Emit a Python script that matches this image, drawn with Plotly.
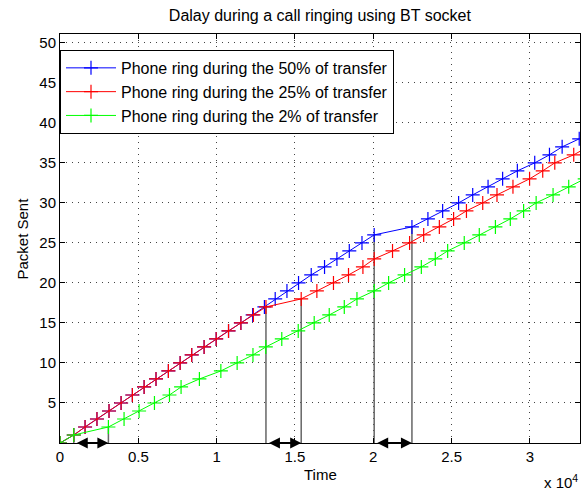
import plotly.graph_objects as go

# ---- data ----
blue_x = [0, 880, 1600, 2360, 3130, 3900, 4620, 5370, 6130, 6920, 7670, 8410, 9200, 9970,
          10760, 11550, 12300, 13050, 13740, 14490, 15230, 16040, 16890, 17680, 18470, 19280,
          20060, 22470, 23490, 24430, 25450, 26350, 27330, 28260, 29200, 30310, 31250, 32060, 33150]
blue_y = list(range(0, 27)) + list(range(27, 39))

red_x = [0, 880, 1600, 2360, 3130, 3900, 4620, 5370, 6130, 6920, 7670, 8410, 9200, 9970,
         10760, 11550, 12350, 13150, 15400, 16400, 17460, 18420, 19340, 20060, 21230, 22320,
         23220, 24220, 25130, 25950, 26990, 27900, 28920, 29980, 30820, 31590, 32800, 33700]
red_y = list(range(0, 38))

green_x = [0, 880, 3090, 4090, 5050, 6030, 6990, 7730, 8900, 10270, 11310, 12320, 13140, 14160,
           15210, 16230, 17190, 18150, 18960, 20060, 20980, 22000, 23070, 23960, 24750, 25810,
           26770, 27800, 28750, 29600, 30400, 31480, 32480, 33500]
green_y = list(range(0, 34))

series_names = ["Phone ring during the 50% of transfer",
                "Phone ring during the 25% of transfer",
                "Phone ring during the 2% of transfer"]

# ring markers: vertical guide lines (x, height) and double arrows (start, end)
guide_x = [880, 3090, 13150, 15400, 20060, 22470]
guide_top = [1, 2, 17, 18, 26, 27]
arrow_pairs = [(880, 3090), (13150, 15400), (20060, 22470)]

x_tickvals = [0, 5000, 10000, 15000, 20000, 25000, 30000]
x_ticktext = ["0", "0.5", "1", "1.5", "2", "2.5", "3"]
y_tickvals = [5, 10, 15, 20, 25, 30, 35, 40, 45, 50]

title_text = "Dalay during a call ringing using BT socket"
x_label = "Time"
y_label = "Packet Sent"

FONT = "Liberation Sans, Arial, Helvetica, sans-serif"

fig = go.Figure()

# guide lines
for gx, gt in zip(guide_x, guide_top):
    fig.add_trace(go.Scatter(x=[gx, gx], y=[0, gt], mode="lines",
                             line=dict(color="#666666", width=1.5),
                             showlegend=False, hoverinfo="skip"))

for xs, ys, col, name in [(blue_x, blue_y, "#0000ff", series_names[0]),
                          (red_x, red_y, "#ff0000", series_names[1]),
                          (green_x, green_y, "#00ff00", series_names[2])]:
    fig.add_trace(go.Scatter(x=xs, y=ys, mode="lines+markers", name=name,
                             line=dict(color=col, width=1),
                             marker=dict(symbol="cross-thin", size=10,
                                         line=dict(color=col, width=1.2), color=col)))

for a, b in arrow_pairs:
    fig.add_annotation(x=b, y=0, ax=a, ay=0, xref="x", yref="y", axref="x", ayref="y",
                       showarrow=True, arrowside="end+start", arrowhead=2, startarrowhead=2,
                       arrowsize=1.1, startarrowsize=1.1, arrowwidth=2, arrowcolor="black",
                       standoff=0, startstandoff=0, text=" ")

axis_common = dict(showline=True, linecolor="black", linewidth=1, mirror="ticks",
                   ticks="inside", ticklen=5, tickcolor="black", showgrid=True,
                   gridcolor="#444444", gridwidth=1, griddash="1px,5px", zeroline=False,
                   automargin=False,
                   tickfont=dict(family=FONT, size=15, color="black"))

fig.update_xaxes(range=[0, 33200], tickvals=x_tickvals, ticktext=x_ticktext, **axis_common)
fig.update_yaxes(range=[0, 51.1], tickvals=y_tickvals, **axis_common)

fig.add_annotation(text=x_label, x=0.5, y=-0.076, xref="paper", yref="paper",
                   showarrow=False, font=dict(family=FONT, size=15, color="black"),
                   xanchor="center", yanchor="middle")
fig.add_annotation(text=y_label, x=-0.073, y=0.5, xref="paper", yref="paper", textangle=-90,
                   showarrow=False, font=dict(family=FONT, size=15, color="black"),
                   xanchor="center", yanchor="middle")
fig.add_annotation(text="x 10<sup>4</sup>", x=1.0, y=-0.095, xref="paper", yref="paper",
                   showarrow=False, font=dict(family=FONT, size=15, color="black"),
                   xanchor="right", yanchor="middle")

fig.update_layout(
    width=587, height=491,
    margin=dict(l=60, r=7, t=34, b=48, autoexpand=False),
    paper_bgcolor="white", plot_bgcolor="white",
    title=dict(text=title_text, x=0.545, xanchor="center", y=0.969, yanchor="middle",
               font=dict(family=FONT, size=16, color="black")),
    legend=dict(x=0, y=0.961, xanchor="left", yanchor="top",
                bgcolor="white", bordercolor="black", borderwidth=1,
                font=dict(family=FONT, size=16, color="black"),
                tracegroupgap=0, itemwidth=50),
    showlegend=True,
)

fig.write_html("out.html", config={"displayModeBar": False},
               post_script="document.body.style.margin='0px';document.body.style.overflow='hidden';")
